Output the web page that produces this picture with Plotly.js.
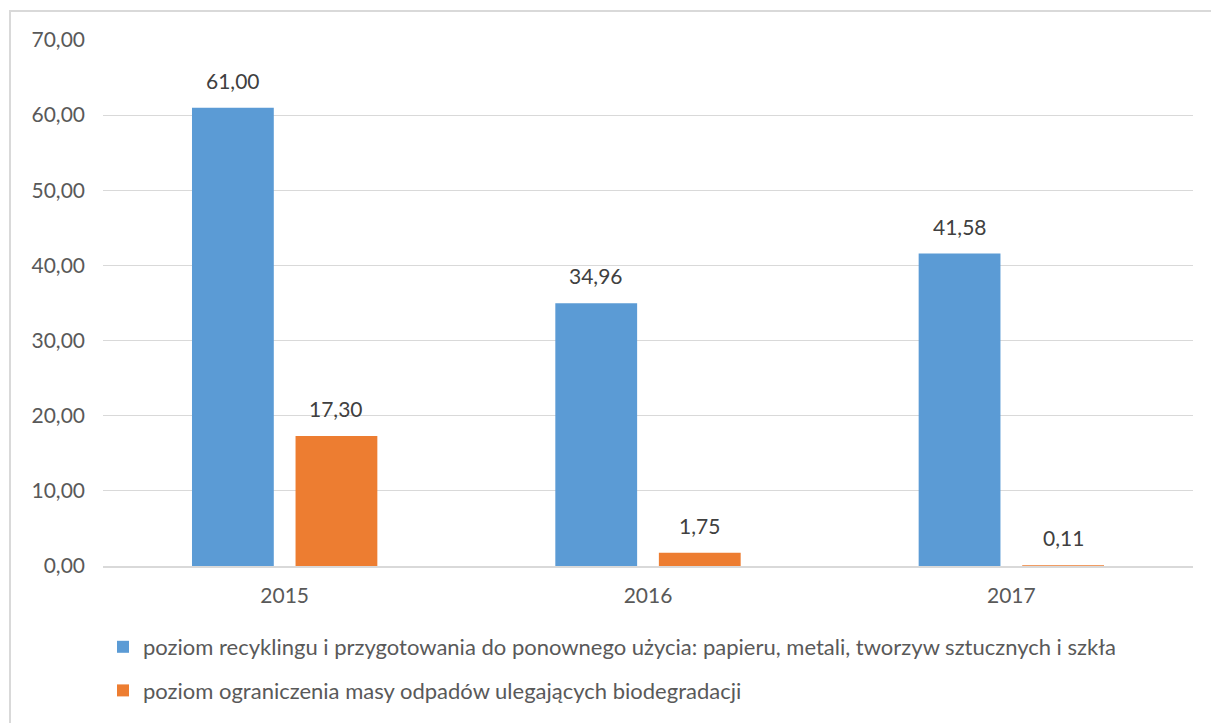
<!DOCTYPE html>
<html>
<head>
<meta charset="utf-8">
<script src="https://cdn.plot.ly/plotly-3.0.1.min.js"></script>
<style>
html,body{margin:0;padding:0;background:#fff;overflow:hidden;}
#wrap{position:relative;width:1211px;height:723px;}
#chart{position:absolute;left:0;top:0;width:1211px;height:723px;}
#frame{position:absolute;left:9px;top:10px;width:1210px;height:720px;border:2px solid #d9d9d9;box-sizing:border-box;pointer-events:none;}
</style>
</head>
<body>
<div id="wrap"><div id="chart"></div><div id="frame"></div></div>
<script>
const years = ['2015', '2016', '2017'];
const recyclingValues = [61.00, 34.96, 41.58];
const biodegradableValues = [17.30, 1.75, 0.11];
const seriesNames = [
  'poziom recyklingu i przygotowania do ponownego użycia: papieru, metali, tworzyw sztucznych i szkła',
  'poziom ograniczenia masy odpadów ulegających biodegradacji'
];
const seriesColors = ['#5B9BD5', '#ED7D31'];
const yTickValues = [0, 10, 20, 30, 40, 50, 60, 70];

const FONT = 'Lato, "Open Sans", sans-serif';

const traces = [
  {type:'bar', x: years, y: recyclingValues, name: seriesNames[0], marker:{color: seriesColors[0]}, legendgroup:'a', hoverinfo:'none'},
  {type:'bar', x: years, y: biodegradableValues, name: seriesNames[1], marker:{color: seriesColors[1]}, legendgroup:'b', hoverinfo:'none'}
];

const fmt = v => v.toFixed(2).replace('.', ',');
const annotations = [];
[recyclingValues, biodegradableValues].forEach((vals, si) => {
  vals.forEach((v, i) => {
    annotations.push({
      x: i, y: v, xref:'x', yref:'y', text: fmt(v), showarrow:false,
      xanchor:'center', yanchor:'bottom', yshift: 13, xshift: si === 0 ? -51.75 : 51.75,
      font:{family: FONT, size: 21, color:'#404040'}
    });
  });
});

const layout = {
  width: 1211, height: 723,
  margin: {l: 103, r: 18, t: 40, b: 157, autoexpand: false},
  paper_bgcolor: 'rgba(0,0,0,0)', plot_bgcolor: '#fff',
  separators: ', ',
  barmode: 'group', bargap: 0.43, bargroupgap: 0.21,
  font: {family: FONT, size: 21, color: '#595959'},
  xaxis: {type:'category', range:[-0.5, 2.5], automargin:false, showgrid:false, zeroline:false, showline:true, linecolor:'#d9d9d9', linewidth:1.5,
          ticks:'', ticklabelstandoff: 10, tickfont:{family: FONT, size: 21, color:'#595959'}},
  yaxis: {range:[0,70], automargin:false, tickvals: yTickValues, tickformat: '.2f', showgrid:true, gridcolor:'#d9d9d9', gridwidth:1.2,
          zeroline:false, showline:false, ticks:'', ticklabelstandoff: 17, tickfont:{family: FONT, size: 21, color:'#595959'}},
  showlegend: true,
  legend: {orientation:'v', x: 0.0, y: (566 - 626) / 526, xanchor:'left', yanchor:'top',
           traceorder:'grouped', tracegroupgap: 12, font:{family: FONT, size: 22, color:'#595959'}, bgcolor:'rgba(0,0,0,0)', itemclick:false},
  annotations: annotations
};

Plotly.newPlot('chart', traces, layout, {displayModeBar:false, staticPlot:true});
</script>
</body>
</html>
